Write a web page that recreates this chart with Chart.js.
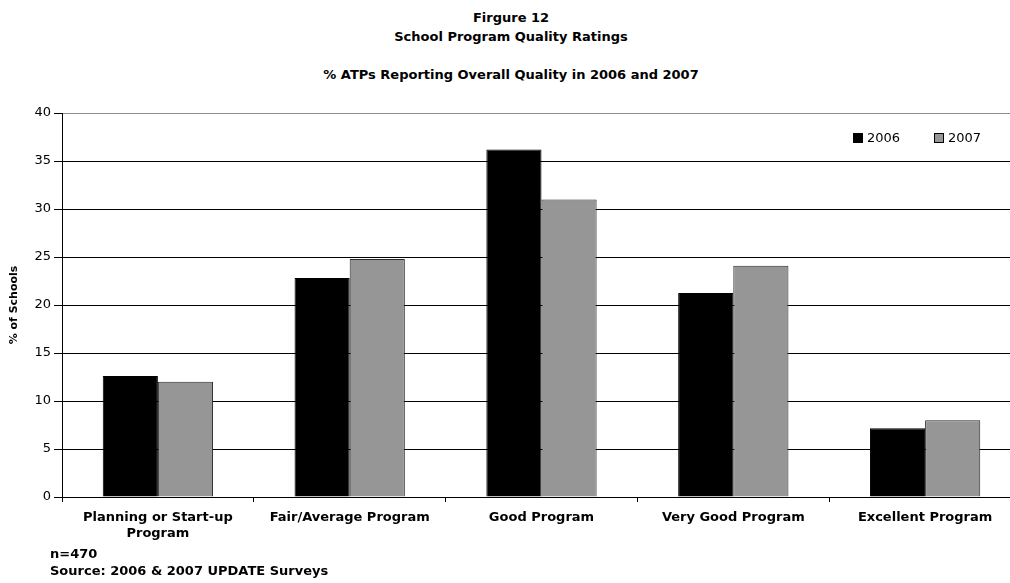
<!DOCTYPE html>
<html>
<head>
<meta charset="utf-8">
<script src="https://cdn.jsdelivr.net/npm/chart.js@4/dist/chart.umd.min.js"></script>
<style>
    html, body { margin: 0; padding: 0; background: #fff; }
    body { width: 1010px; height: 583px; overflow: hidden; position: relative; font-family: "DejaVu Sans", Arial, sans-serif; color: #000; }
    #wrap { position: absolute; left: 0; top: 0; width: 1030px; height: 583px; }
    .title { position: absolute; left: 0; width: 1022px; text-align: center; font-weight: bold; font-size: 13px; line-height: 18px; }
    .note { position: absolute; left: 50px; font-weight: bold; font-size: 13px; line-height: 18px; }
    .legend { position: absolute; top: 129px; font-size: 13px; line-height: 18px; white-space: nowrap; }
    .legend span.box { display: inline-block; box-sizing: border-box; width: 10px; height: 10px; border: 1px solid #000; margin-right: 4px; vertical-align: -1px; }
</style>
</head>
<body>
<div class="title" style="top:9px">Firgure 12</div>
<div class="title" style="top:28px">School Program Quality Ratings</div>
<div class="title" style="top:66px">% ATPs Reporting Overall Quality in 2006 and 2007</div>
<div id="wrap"><canvas id="chart" width="1030" height="583"></canvas></div>
<div class="legend" style="left:853px"><span class="box" style="background:#000"></span>2006</div>
<div class="legend" style="left:934px"><span class="box" style="background:#969696"></span>2007</div>
<div class="note" style="top:545px">n=470</div>
<div class="note" style="top:562px">Source: 2006 &amp; 2007 UPDATE Surveys</div>
<script>
(function () {
    'use strict';

    const categories = [
        ['Planning or Start-up', 'Program'],
        'Fair/Average Program',
        'Good Program',
        'Very Good Program',
        'Excellent Program'
    ];
    const values2006 = [12.6, 22.8, 36.2, 21.25, 7.15];
    const values2007 = [12.0, 24.8, 31.0, 24.1, 8.0];
    const yTicks = [0, 5, 10, 15, 20, 25, 30, 35, 40];

    const font = '"DejaVu Sans", Arial, sans-serif';

    const chart = new Chart(document.getElementById('chart'), {
        type: 'bar',
        data: {
            labels: categories,
            datasets: [
                { label: '2006', data: values2006, backgroundColor: '#000000', borderColor: '#000000', borderWidth: 1 },
                { label: '2007', data: values2007, backgroundColor: '#969696', borderColor: '#2a2a2a', borderWidth: 1 }
            ]
        },
        options: {
            responsive: false,
            animation: false,
            layout: { padding: { top: 113, right: 9, bottom: 0, left: 0 } },
            categoryPercentage: 0.575,
            barPercentage: 1,
            plugins: {
                legend: { display: false },
                tooltip: { enabled: false }
            },
            scales: {
                x: {
                    offset: true,
                    grid: { offset: true, drawOnChartArea: false, drawTicks: true, tickLength: 5, color: '#000' },
                    border: { color: '#000', width: 1 },
                    ticks: { color: '#000', padding: 8, maxRotation: 0, autoSkip: false, font: { family: font, size: 13, weight: 'bold', lineHeight: 1.2 } },
                    afterFit(scale) { scale.height = 86; }
                },
                y: {
                    min: 0,
                    max: 40,
                    afterBuildTicks(scale) { scale.ticks = yTicks.map(v => ({ value: v })); },
                    grid: {
                        color: ctx => (ctx.tick && ctx.tick.value === 40 ? '#8c8c8c' : '#000'),
                        tickColor: '#000',
                        tickLength: 8,
                        lineWidth: 1
                    },
                    border: { color: '#000', width: 1 },
                    ticks: { color: '#000', padding: 3, font: { family: font, size: 13 } },
                    title: {
                        display: true,
                        text: '% of Schools',
                        color: '#000',
                        padding: { top: 8, bottom: 0 },
                        font: { family: font, size: 11, weight: 'bold' }
                    },
                    afterFit(scale) { scale.width = 62; }
                }
            }
        }
    });
})();
</script>
</body>
</html>
